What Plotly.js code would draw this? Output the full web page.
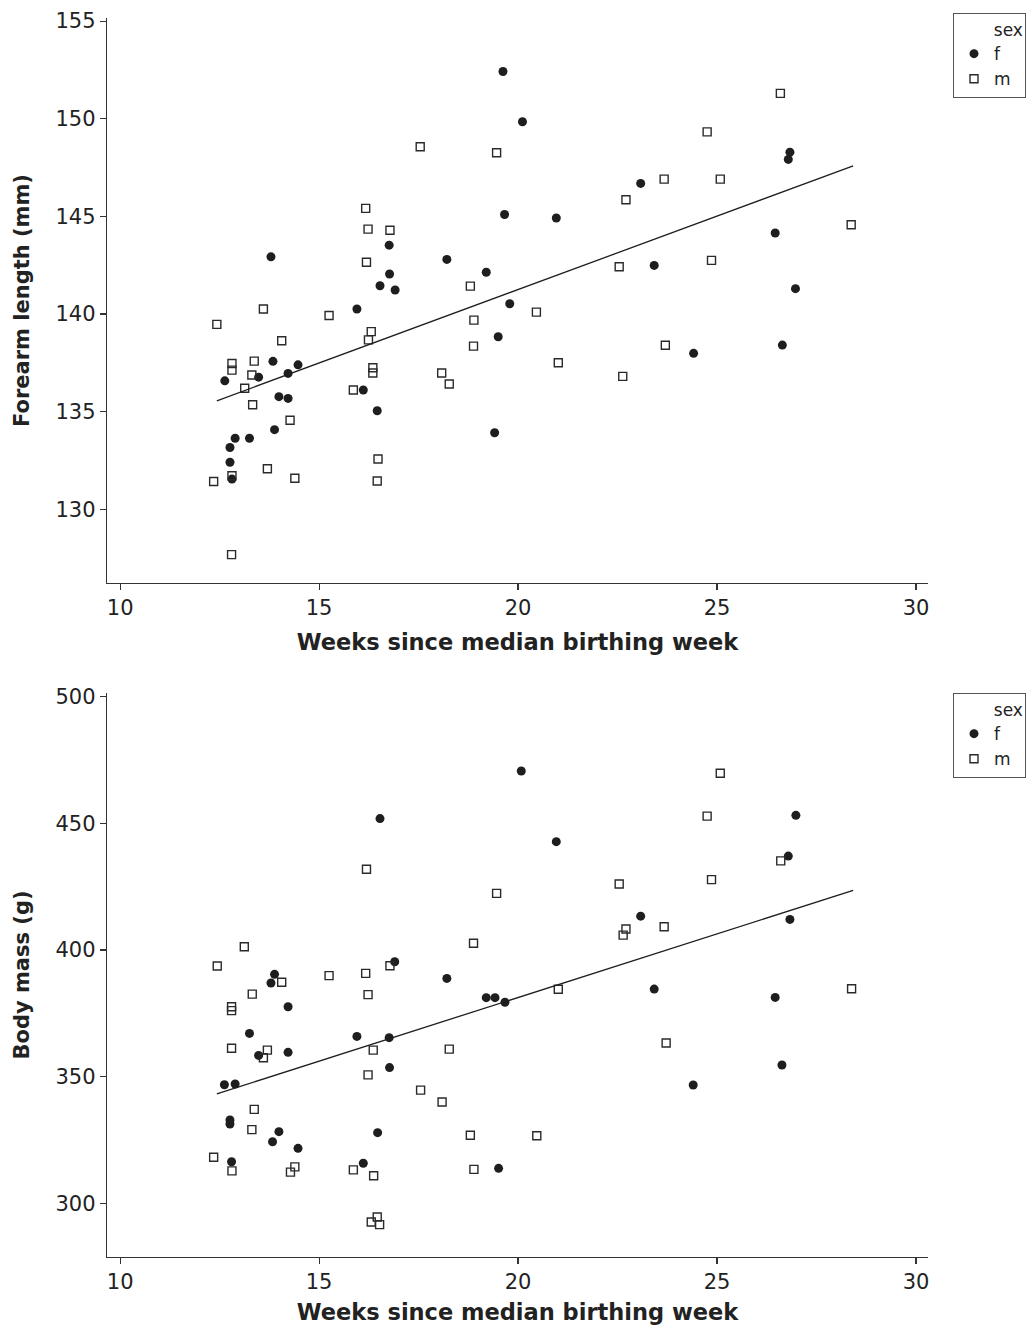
<!DOCTYPE html>
<html>
<head>
<meta charset="utf-8">
<script src="https://cdn.plot.ly/plotly-3.0.1.min.js"></script>
<style>html,body{margin:0;padding:0;background:#fff;}#chart{width:1026px;height:1325px;}</style>
</head>
<body>
<div id="chart"></div>
<script>
// ---------- Forearm length panel ----------
const forearmFemaleWeeks = [13.84,14.47,12.63,13.48,14.22,13.99,14.22,13.88,12.89,13.25,12.76,12.76,12.81,
  16.76,13.79,16.77,16.53,16.91,15.95,16.11,16.46,
  19.62,20.11,23.08,19.66,20.96,18.21,19.20,23.42,19.79,19.50,24.41,19.41,
  26.83,26.79,26.46,26.97,26.64];
const forearmFemaleLength = [137.58,137.40,136.58,136.77,136.96,135.77,135.68,134.08,133.64,133.64,133.17,132.41,131.55,
  143.53,142.93,142.05,141.45,141.23,140.26,136.11,135.05,
  152.42,149.85,146.69,145.10,144.92,142.80,142.14,142.49,140.53,138.84,137.99,133.92,
  148.29,147.92,144.15,141.30,138.41];
const forearmMaleWeeks = [13.60,12.43,14.06,12.81,12.81,13.37,13.31,13.13,13.33,14.27,13.70,12.81,12.35,14.39,12.80,
  16.17,16.23,16.78,16.19,15.25,16.31,16.24,16.35,16.35,15.86,16.48,16.46,
  17.54,19.46,23.67,22.71,18.80,22.54,20.46,18.89,18.88,23.70,21.01,18.08,18.27,22.63,
  26.59,24.75,25.08,28.37,24.86];
const forearmMaleLength = [140.26,139.47,138.63,137.47,137.13,137.59,136.88,136.20,135.36,134.56,132.08,131.72,131.43,131.59,127.68,
  145.41,144.35,144.29,142.65,139.93,139.10,138.68,137.25,136.98,136.11,132.58,131.45,
  148.57,148.26,146.91,145.85,141.43,142.42,140.10,139.69,138.36,138.40,137.51,136.98,136.42,136.81,
  151.30,149.33,146.91,144.57,142.75];
const fitForearmWeeks = [12.43, 28.42];
const fitForearmLength = [135.56, 147.59];

// ---------- Body mass panel ----------
const massFemaleWeeks = [13.88,13.79,14.22,13.25,14.22,13.48,12.62,12.89,12.76,12.76,13.99,13.83,14.47,12.80,
  16.53,20.96,16.90,18.21,19.20,19.42,19.67,15.95,16.76,16.77,16.47,16.11,19.51,20.08,
  26.98,26.79,23.08,26.83,23.42,26.46,24.40,26.63];
const massFemaleGrams = [390.4,387.0,377.6,367.1,359.6,358.4,346.8,347.1,332.9,331.3,328.3,324.3,321.7,316.4,
  451.9,442.8,395.4,388.8,381.2,381.2,379.4,365.9,365.4,353.6,327.9,315.8,313.8,470.7,
  453.2,437.1,413.4,412.1,384.6,381.3,346.7,354.6];
const massMaleWeeks = [13.12,12.44,14.06,13.32,12.80,12.80,12.80,13.70,13.60,13.37,13.31,12.35,12.81,14.39,14.28,
  16.19,19.46,18.88,16.78,15.25,16.17,16.23,21.01,16.36,18.27,16.23,17.55,18.09,18.80,20.47,15.86,16.37,18.89,16.46,16.31,16.52,
  25.08,24.75,26.60,22.54,24.86,22.71,22.64,23.67,28.38,23.72];
const massMaleGrams = [401.3,393.7,387.3,382.6,377.6,376.1,361.2,360.5,357.5,337.1,329.1,318.2,312.8,314.4,312.3,
  431.9,422.4,402.7,393.8,389.9,390.8,382.4,384.5,360.5,360.9,350.7,344.7,340.0,326.9,326.7,313.2,310.9,313.4,294.6,292.6,291.6,
  469.8,452.9,435.2,426.1,427.8,408.3,405.9,409.2,384.7,363.3];
const fitMassWeeks = [12.43, 28.42];
const fitMassGrams = [343.2, 423.6];

const xTicks = [10, 15, 20, 25, 30];
const forearmTicks = [130, 135, 140, 145, 150, 155];
const massTicks = [300, 350, 400, 450, 500];
const sexLabels = ['f', 'm'];

const FONT = 'DejaVu Sans, Verdana, sans-serif';
const INK = '#1e1e1e';
const fMarker = {symbol: 'circle', size: 9, color: INK, line: {width: 0}};
const mMarker = {symbol: 'square-open', size: 8, color: '#2a2a2a', line: {width: 1.4}};

const traces = [
  {x: forearmFemaleWeeks, y: forearmFemaleLength, name: sexLabels[0], type: 'scatter', mode: 'markers',
   marker: fMarker, xaxis: 'x', yaxis: 'y', legend: 'legend'},
  {x: forearmMaleWeeks, y: forearmMaleLength, name: sexLabels[1], type: 'scatter', mode: 'markers',
   marker: mMarker, xaxis: 'x', yaxis: 'y', legend: 'legend'},
  {x: fitForearmWeeks, y: fitForearmLength, type: 'scatter', mode: 'lines', showlegend: false,
   line: {color: INK, width: 1.3}, xaxis: 'x', yaxis: 'y', hoverinfo: 'skip'},
  {x: massFemaleWeeks, y: massFemaleGrams, name: sexLabels[0], type: 'scatter', mode: 'markers',
   marker: fMarker, xaxis: 'x2', yaxis: 'y2', legend: 'legend2'},
  {x: massMaleWeeks, y: massMaleGrams, name: sexLabels[1], type: 'scatter', mode: 'markers',
   marker: mMarker, xaxis: 'x2', yaxis: 'y2', legend: 'legend2'},
  {x: fitMassWeeks, y: fitMassGrams, type: 'scatter', mode: 'lines', showlegend: false,
   line: {color: INK, width: 1.3}, xaxis: 'x2', yaxis: 'y2', hoverinfo: 'skip'}
];

const axisBase = {
  showline: true, linecolor: '#333', linewidth: 1.2, mirror: false,
  ticks: 'outside', ticklen: 6, tickwidth: 1.2, tickcolor: '#333',
  showgrid: false, zeroline: false, tickmode: 'array',
  tickfont: {family: FONT, size: 21, color: '#222'}
};
const xTitleFont = {family: FONT, size: 22.5, color: '#222'};
const yTitleFont = {family: FONT, size: 21, color: '#222'};

const legendBase = {
  xref: 'container', yref: 'container', xanchor: 'left', yanchor: 'top',
  bgcolor: '#ffffff', bordercolor: '#555', borderwidth: 1,
  font: {family: FONT, size: 17, color: '#222'},
  title: {text: '\u00A0\u00A0\u00A0\u00A0\u00A0\u00A0\u00A0sex', font: {family: FONT, size: 17, color: '#222'}},
  itemclick: false, itemdoubleclick: false
};

const layout = {
  width: 1026, height: 1325,
  margin: {l: 107, r: 98, t: 18, b: 68},
  paper_bgcolor: '#ffffff', plot_bgcolor: '#ffffff',
  font: {family: FONT, color: '#222'},
  xaxis: Object.assign({}, axisBase, {domain: [0, 1], anchor: 'y', range: [9.67, 30.3], tickvals: xTicks,
    title: {text: '<b>Weeks since median birthing week</b>', font: xTitleFont, standoff: 14}}),
  yaxis: Object.assign({}, axisBase, {domain: [0.544, 1], anchor: 'x', range: [126.23, 155.16], tickvals: forearmTicks,
    title: {text: '<b>Forearm length (mm)</b>', font: yTitleFont, standoff: 20}}),
  xaxis2: Object.assign({}, axisBase, {domain: [0, 1], anchor: 'y2', range: [9.67, 30.3], tickvals: xTicks,
    title: {text: '<b>Weeks since median birthing week</b>', font: xTitleFont, standoff: 14}}),
  yaxis2: Object.assign({}, axisBase, {domain: [0, 0.4552], anchor: 'x2', range: [278.8, 501.5], tickvals: massTicks,
    title: {text: '<b>Body mass (g)</b>', font: yTitleFont, standoff: 20}}),
  legend: Object.assign({}, legendBase, {x: 953 / 1026, y: 1 - 13 / 1325}),
  legend2: Object.assign({}, legendBase, {x: 953 / 1026, y: 1 - 693 / 1325}),
  showlegend: true
};

Plotly.newPlot('chart', traces, layout, {displayModeBar: false, staticPlot: true});
</script>
</body>
</html>
